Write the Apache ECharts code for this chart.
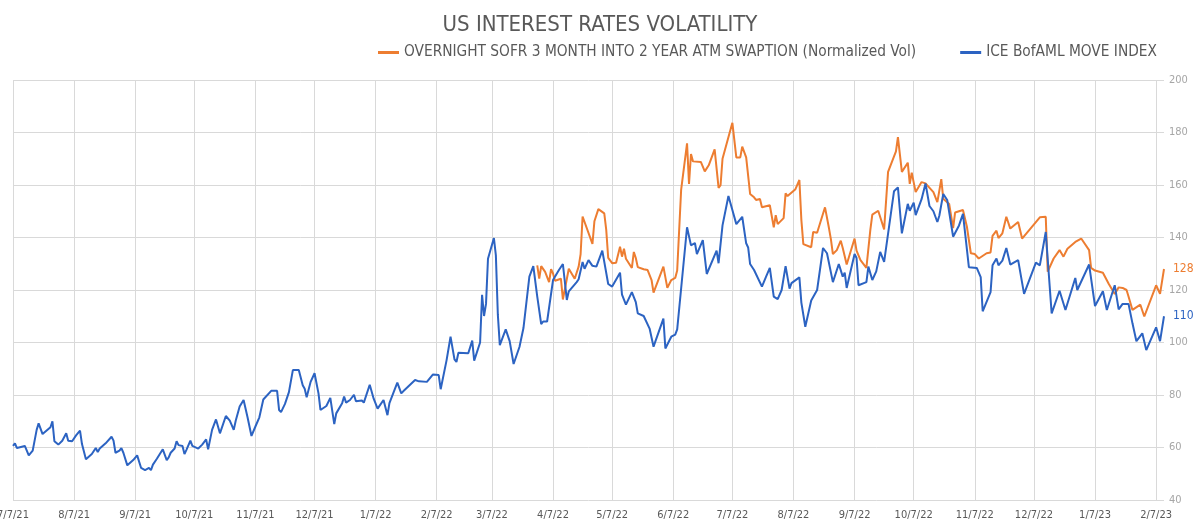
<!DOCTYPE html>
<html>
<head>
<meta charset="utf-8">
<script src="https://cdn.jsdelivr.net/npm/echarts@6/dist/echarts.min.js"></script>
<style>
  html, body { margin: 0; padding: 0; background: #fff; }
  #chart { width: 1200px; height: 528px; }
</style>
</head>
<body>
<div id="chart"></div>
<script>
const FONT = "'Liberation Sans Narrow', 'DejaVu Sans Condensed', 'Roboto', sans-serif"

const firstDay = '2021-07-07'
const lastDay = '2023-02-11'
const yTicks = { min: 40, max: 200, step: 20 }

const swaptionName = 'OVERNIGHT SOFR 3 MONTH INTO 2 YEAR ATM SWAPTION (Normalized Vol)'
const moveName = 'ICE BofAML MOVE INDEX'

// ICE BofAML MOVE index
const moveIndex = [
  ['2021-07-07', 60.6], ['2021-07-08', 61.6], ['2021-07-09', 59.8], ['2021-07-13', 60.6], ['2021-07-14', 60.3],
  ['2021-07-15', 57.0], ['2021-07-16', 57.0], ['2021-07-17', 58.8], ['2021-07-19', 66.7], ['2021-07-20', 69.2],
  ['2021-07-22', 65.1], ['2021-07-23', 65.1], ['2021-07-26', 67.7], ['2021-07-27', 70.0], ['2021-07-28', 62.4],
  ['2021-07-30', 61.1], ['2021-08-01', 62.6], ['2021-08-03', 65.4], ['2021-08-04', 62.6], ['2021-08-05', 63.1],
  ['2021-08-06', 62.4], ['2021-08-08', 64.6], ['2021-08-10', 66.4], ['2021-08-11', 61.3], ['2021-08-13', 55.5],
  ['2021-08-16', 57.5], ['2021-08-18', 59.8], ['2021-08-19', 58.3], ['2021-08-20', 59.6], ['2021-08-23', 61.6],
  ['2021-08-26', 64.1], ['2021-08-27', 62.6], ['2021-08-28', 58.0], ['2021-08-30', 58.8], ['2021-08-31', 59.8],
  ['2021-09-01', 58.0], ['2021-09-03', 53.2], ['2021-09-06', 55.2], ['2021-09-08', 57.0], ['2021-09-09', 56.9],
  ['2021-09-10', 52.2], ['2021-09-12', 51.4], ['2021-09-13', 51.9], ['2021-09-14', 52.2], ['2021-09-15', 51.4],
  ['2021-09-16', 53.5], ['2021-09-17', 53.5], ['2021-09-18', 55.7], ['2021-09-21', 59.3], ['2021-09-22', 58.8],
  ['2021-09-23', 55.2], ['2021-09-24', 56.2], ['2021-09-25', 58.0], ['2021-09-27', 59.6], ['2021-09-28', 62.4],
  ['2021-09-29', 60.9], ['2021-10-01', 60.6], ['2021-10-02', 57.5], ['2021-10-03', 59.1], ['2021-10-05', 62.6],
  ['2021-10-06', 60.6], ['2021-10-07', 60.9], ['2021-10-09', 59.6], ['2021-10-11', 61.1], ['2021-10-13', 63.1],
  ['2021-10-14', 59.3], ['2021-10-16', 66.7], ['2021-10-18', 70.7], ['2021-10-20', 65.4], ['2021-10-23', 72.0],
  ['2021-10-25', 70.2], ['2021-10-27', 66.7], ['2021-10-28', 70.2], ['2021-10-30', 75.6], ['2021-11-01', 78.1],
  ['2021-11-03', 71.5], ['2021-11-04', 71.5], ['2021-11-05', 64.4], ['2021-11-07', 68.0], ['2021-11-09', 71.5],
  ['2021-11-11', 78.3], ['2021-11-12', 78.6], ['2021-11-15', 81.6], ['2021-11-18', 81.6], ['2021-11-19', 74.3],
  ['2021-11-20', 73.5], ['2021-11-22', 76.6], ['2021-11-24', 81.1], ['2021-11-26', 89.5], ['2021-11-29', 89.5],
  ['2021-12-01', 83.7], ['2021-12-02', 82.4], ['2021-12-03', 79.1], ['2021-12-05', 85.0], ['2021-12-07', 88.3],
  ['2021-12-08', 88.3], ['2021-12-09', 80.6], ['2021-12-10', 74.3], ['2021-12-13', 75.8], ['2021-12-15', 78.9],
  ['2021-12-17', 68.9], ['2021-12-18', 73.0], ['2021-12-21', 76.9], ['2021-12-22', 79.4], ['2021-12-23', 77.1],
  ['2021-12-25', 78.1], ['2021-12-27', 80.1], ['2021-12-28', 77.6], ['2021-12-31', 77.9], ['2022-01-01', 77.1],
  ['2022-01-04', 83.9], ['2022-01-05', 83.2], ['2022-01-06', 78.6], ['2022-01-07', 77.9], ['2022-01-08', 74.8],
  ['2022-01-11', 78.1], ['2022-01-13', 72.3], ['2022-01-14', 76.9], ['2022-01-15', 77.6], ['2022-01-18', 84.7],
  ['2022-01-20', 80.6], ['2022-01-21', 81.4], ['2022-01-27', 85.7], ['2022-01-29', 85.2], ['2022-02-02', 85.0],
  ['2022-02-05', 87.8], ['2022-02-08', 87.6], ['2022-02-09', 82.2], ['2022-02-10', 81.7], ['2022-02-12', 93.3],
  ['2022-02-14', 102.2], ['2022-02-16', 93.6], ['2022-02-17', 92.6], ['2022-02-18', 96.1], ['2022-02-19', 95.6],
  ['2022-02-23', 95.9], ['2022-02-25', 100.7], ['2022-02-26', 93.1], ['2022-03-01', 100.0], ['2022-03-02', 118.2],
  ['2022-03-03', 110.1], ['2022-03-04', 114.7], ['2022-03-05', 131.9], ['2022-03-08', 139.8], ['2022-03-09', 133.2],
  ['2022-03-10', 110.6], ['2022-03-11', 99.0], ['2022-03-14', 105.0], ['2022-03-16', 100.5], ['2022-03-18', 91.8],
  ['2022-03-19', 91.8], ['2022-03-21', 98.4], ['2022-03-23', 105.5], ['2022-03-24', 106.0], ['2022-03-26', 125.1],
  ['2022-03-28', 129.1], ['2022-03-30', 117.5], ['2022-04-01', 107.0], ['2022-04-02', 108.0], ['2022-04-04', 108.0],
  ['2022-04-07', 123.8], ['2022-04-10', 127.6], ['2022-04-12', 129.9], ['2022-04-14', 116.2], ['2022-04-15', 119.5],
  ['2022-04-19', 123.0], ['2022-04-20', 124.1], ['2022-04-22', 130.7], ['2022-04-23', 128.1], ['2022-04-25', 131.4],
  ['2022-04-27', 129.2], ['2022-04-29', 128.9], ['2022-05-02', 135.0], ['2022-05-05', 122.3], ['2022-05-07', 121.3],
  ['2022-05-11', 126.6], ['2022-05-12', 118.2], ['2022-05-14', 114.4], ['2022-05-17', 119.2], ['2022-05-19', 115.4],
  ['2022-05-20', 111.1], ['2022-05-23', 110.1], ['2022-05-26', 105.3], ['2022-05-28', 98.4], ['2022-06-02', 109.1],
  ['2022-06-03', 97.7], ['2022-06-06', 102.2], ['2022-06-08', 103.0], ['2022-06-09', 105.0], ['2022-06-10', 105.2],
  ['2022-06-14', 143.9], ['2022-06-16', 137.0], ['2022-06-18', 137.9], ['2022-06-19', 133.7], ['2022-06-22', 139.0],
  ['2022-06-24', 126.1], ['2022-06-29', 135.0], ['2022-06-30', 130.2], ['2022-07-02', 144.6], ['2022-07-05', 155.8],
  ['2022-07-07', 150.5], ['2022-07-09', 145.1], ['2022-07-12', 147.9], ['2022-07-14', 137.8], ['2022-07-15', 136.2],
  ['2022-07-16', 129.9], ['2022-07-18', 127.6], ['2022-07-22', 121.3], ['2022-07-24', 124.9], ['2022-07-26', 128.4],
  ['2022-07-28', 117.5], ['2022-07-30', 116.5], ['2022-08-01', 120.0], ['2022-08-03', 129.1], ['2022-08-05', 120.5],
  ['2022-08-06', 122.6], ['2022-08-10', 124.8], ['2022-08-11', 115.2], ['2022-08-13', 106.0], ['2022-08-16', 116.0],
  ['2022-08-19', 120.0], ['2022-08-22', 136.0], ['2022-08-24', 134.0], ['2022-08-27', 123.0], ['2022-08-30', 129.9],
  ['2022-09-01', 125.1], ['2022-09-02', 126.6], ['2022-09-03', 120.8], ['2022-09-07', 133.7], ['2022-09-08', 132.2],
  ['2022-09-09', 121.8], ['2022-09-13', 123.0], ['2022-09-14', 128.9], ['2022-09-16', 123.8], ['2022-09-18', 127.1],
  ['2022-09-20', 134.5], ['2022-09-22', 130.7], ['2022-09-27', 157.6], ['2022-09-29', 159.1], ['2022-10-01', 141.6],
  ['2022-10-04', 152.8], ['2022-10-05', 150.2], ['2022-10-07', 153.3], ['2022-10-08', 148.5], ['2022-10-11', 154.6],
  ['2022-10-13', 160.6], ['2022-10-15', 152.0], ['2022-10-17', 150.0], ['2022-10-19', 145.9], ['2022-10-20', 148.3],
  ['2022-10-22', 156.6], ['2022-10-24', 154.3], ['2022-10-25', 153.6], ['2022-10-27', 140.3], ['2022-10-30', 144.6],
  ['2022-11-01', 149.0], ['2022-11-04', 128.7], ['2022-11-08', 128.4], ['2022-11-10', 124.9], ['2022-11-11', 111.9],
  ['2022-11-15', 119.2], ['2022-11-16', 129.4], ['2022-11-18', 132.0], ['2022-11-19', 129.4], ['2022-11-21', 131.2],
  ['2022-11-23', 136.0], ['2022-11-25', 129.7], ['2022-11-29', 131.4], ['2022-12-02', 118.5], ['2022-12-08', 130.4],
  ['2022-12-10', 129.4], ['2022-12-13', 142.1], ['2022-12-16', 111.1], ['2022-12-20', 119.7], ['2022-12-23', 112.4],
  ['2022-12-28', 124.6], ['2022-12-29', 120.0], ['2023-01-04', 129.7], ['2023-01-07', 113.9], ['2023-01-11', 119.5],
  ['2023-01-13', 112.4], ['2023-01-17', 121.8], ['2023-01-19', 112.6], ['2023-01-21', 114.7], ['2023-01-24', 114.7],
  ['2023-01-26', 107.3], ['2023-01-28', 100.5], ['2023-01-31', 103.5], ['2023-02-02', 97.1], ['2023-02-03', 97.5],
  ['2023-02-07', 105.8], ['2023-02-09', 100.5], ['2023-02-11', 110.0]
]

// SOFR 3m x 2y ATM swaption normalized vol
const swaptionVol = [
  ['2022-03-30', 129.4], ['2022-03-31', 124.3], ['2022-04-01', 129.1], ['2022-04-03', 126.9], ['2022-04-05', 123.0],
  ['2022-04-06', 127.9], ['2022-04-07', 126.3], ['2022-04-08', 123.5], ['2022-04-11', 124.3], ['2022-04-12', 116.4],
  ['2022-04-15', 128.1], ['2022-04-18', 124.3], ['2022-04-20', 128.9], ['2022-04-21', 133.7], ['2022-04-22', 148.0],
  ['2022-04-27', 137.6], ['2022-04-28', 146.2], ['2022-04-30', 150.8], ['2022-05-03', 149.2], ['2022-05-04', 142.9],
  ['2022-05-05', 132.2], ['2022-05-07', 130.2], ['2022-05-09', 130.4], ['2022-05-11', 136.5], ['2022-05-12', 132.7],
  ['2022-05-13', 135.7], ['2022-05-14', 131.9], ['2022-05-17', 128.4], ['2022-05-18', 134.5], ['2022-05-19', 132.2],
  ['2022-05-20', 128.7], ['2022-05-23', 127.9], ['2022-05-25', 127.6], ['2022-05-27', 123.8], ['2022-05-28', 119.0],
  ['2022-06-02', 128.9], ['2022-06-04', 120.8], ['2022-06-06', 123.8], ['2022-06-08', 124.6], ['2022-06-09', 127.4],
  ['2022-06-11', 158.1], ['2022-06-14', 175.9], ['2022-06-15', 160.4], ['2022-06-16', 171.8], ['2022-06-17', 169.0],
  ['2022-06-21', 168.8], ['2022-06-23', 165.2], ['2022-06-25', 167.5], ['2022-06-28', 173.6], ['2022-06-30', 158.9],
  ['2022-07-01', 159.9], ['2022-07-02', 170.0], ['2022-07-07', 183.7], ['2022-07-09', 170.5], ['2022-07-11', 170.5],
  ['2022-07-12', 174.6], ['2022-07-14', 170.5], ['2022-07-15', 170.0], ['2022-07-16', 156.6], ['2022-07-18', 155.3],
  ['2022-07-19', 154.3], ['2022-07-21', 154.7], ['2022-07-22', 151.5], ['2022-07-26', 152.3], ['2022-07-28', 143.9],
  ['2022-07-29', 148.5], ['2022-07-30', 145.1], ['2022-08-02', 147.4], ['2022-08-03', 156.8], ['2022-08-04', 155.8],
  ['2022-08-05', 156.0], ['2022-08-08', 158.4], ['2022-08-10', 161.9], ['2022-08-11', 146.7], ['2022-08-12', 137.5],
  ['2022-08-16', 136.3], ['2022-08-17', 142.1], ['2022-08-19', 141.8], ['2022-08-23', 151.5], ['2022-08-25', 143.6],
  ['2022-08-26', 139.3], ['2022-08-27', 133.7], ['2022-08-29', 135.2], ['2022-08-31', 138.8], ['2022-09-01', 136.0],
  ['2022-09-03', 129.7], ['2022-09-07', 139.6], ['2022-09-08', 135.0], ['2022-09-10', 131.4], ['2022-09-13', 128.4],
  ['2022-09-15', 142.9], ['2022-09-16', 148.7], ['2022-09-19', 150.2], ['2022-09-20', 150.4], ['2022-09-22', 143.1],
  ['2022-09-24', 165.0], ['2022-09-28', 172.8], ['2022-09-29', 178.2], ['2022-10-01', 165.0], ['2022-10-04', 168.5],
  ['2022-10-05', 160.4], ['2022-10-06', 164.7], ['2022-10-08', 157.3], ['2022-10-11', 161.1], ['2022-10-13', 160.6],
  ['2022-10-17', 157.3], ['2022-10-19', 153.5], ['2022-10-21', 162.2], ['2022-10-22', 154.8], ['2022-10-25', 152.8],
  ['2022-10-27', 143.6], ['2022-10-28', 149.5], ['2022-11-01', 150.5], ['2022-11-03', 144.1], ['2022-11-05', 134.0],
  ['2022-11-07', 133.7], ['2022-11-09', 132.0], ['2022-11-13', 134.0], ['2022-11-15', 134.3], ['2022-11-16', 140.6],
  ['2022-11-18', 142.6], ['2022-11-19', 139.8], ['2022-11-21', 141.6], ['2022-11-23', 147.9], ['2022-11-25', 143.4],
  ['2022-11-29', 145.9], ['2022-12-01', 139.6], ['2022-12-02', 139.0], ['2022-12-10', 147.7], ['2022-12-13', 147.9],
  ['2022-12-14', 127.0], ['2022-12-17', 132.0], ['2022-12-20', 135.2], ['2022-12-22', 132.7], ['2022-12-24', 135.7],
  ['2022-12-28', 138.3], ['2022-12-29', 138.0], ['2022-12-31', 139.6], ['2023-01-04', 135.2], ['2023-01-05', 128.4],
  ['2023-01-07', 127.4], ['2023-01-11', 126.6], ['2023-01-14', 122.3], ['2023-01-17', 118.5], ['2023-01-19', 121.0],
  ['2023-01-21', 120.8], ['2023-01-23', 120.0], ['2023-01-24', 117.5], ['2023-01-26', 112.4], ['2023-01-30', 114.4],
  ['2023-02-01', 109.9], ['2023-02-02', 110.3], ['2023-02-07', 121.8], ['2023-02-09', 118.5], ['2023-02-11', 128.0]
]

// one category per calendar day, so dates sit on a linear scale
const dayList = []
for (let t = Date.parse(firstDay + 'T00:00:00Z'); t <= Date.parse(lastDay + 'T00:00:00Z'); t += 86400000) {
  dayList.push(new Date(t).toISOString().slice(0, 10))
}

const isMonthTick = (index, value) => value.slice(8) === '07'
const shortDate = value => {
  const [y, m, d] = value.split('-')
  return `${+m}/${+d}/${y.slice(2)}`
}

const chart = echarts.init(document.getElementById('chart'))
chart.setOption({
  backgroundColor: '#ffffff',
  animation: false,
  textStyle: { fontFamily: FONT },
  title: {
    text: 'US INTEREST RATES VOLATILITY',
    left: 'center',
    top: 9,
    textStyle: { fontFamily: FONT, fontSize: 22, fontWeight: 'normal', color: '#595959' }
  },
  legend: {
    top: 40,
    left: 373,
    itemGap: 44,
    itemWidth: 21,
    itemHeight: 3,
    icon: 'rect',
    textStyle: { fontFamily: FONT, fontSize: 15.3, color: '#595959' },
    data: [swaptionName, moveName]
  },
  grid: { left: 13, right: 36, top: 80, bottom: 28, outerBoundsMode: 'none' },
  xAxis: {
    type: 'category',
    data: dayList,
    boundaryGap: false,
    axisLine: { show: false },
    axisTick: { show: false },
    axisLabel: {
      interval: isMonthTick,
      formatter: shortDate,
      color: '#595959',
      fontSize: 11,
      margin: 10
    },
    splitLine: { show: true, interval: isMonthTick, lineStyle: { color: '#d9d9d9', width: 1 } }
  },
  yAxis: {
    type: 'value',
    position: 'right',
    min: yTicks.min,
    max: yTicks.max,
    interval: yTicks.step,
    axisLine: { show: false },
    axisTick: { show: false },
    axisLabel: { color: '#a6a6a6', fontSize: 11, margin: 5 },
    splitLine: { lineStyle: { color: '#d9d9d9', width: 1 } }
  },
  series: [
    {
      name: swaptionName,
      type: 'line',
      data: swaptionVol,
      showSymbol: false,
      color: '#ed7d31',
      lineStyle: { width: 2, color: '#ed7d31' },
      endLabel: {
        show: true,
        distance: 9,
        color: '#ed7d31',
        fontSize: 12,
        fontFamily: FONT,
        formatter: p => Math.round(p.value[1])
      }
    },
    {
      name: moveName,
      type: 'line',
      data: moveIndex,
      showSymbol: false,
      color: '#2c63c2',
      lineStyle: { width: 2, color: '#2c63c2' },
      endLabel: {
        show: true,
        distance: 9,
        color: '#2c63c2',
        fontSize: 12,
        fontFamily: FONT,
        formatter: p => Math.round(p.value[1])
      }
    }
  ]
})
</script>
</body>
</html>
